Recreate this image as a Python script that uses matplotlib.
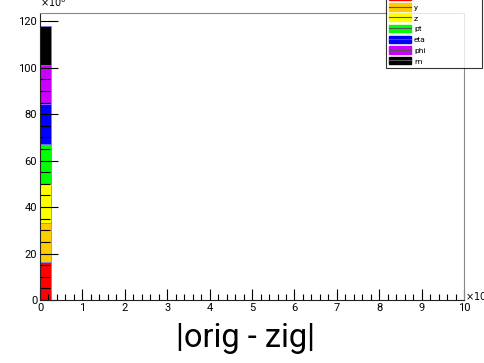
# stacked |orig - zig| histogram, ROOT style
import numpy as np
import matplotlib.pyplot as plt
from matplotlib.patches import Patch
from matplotlib.lines import Line2D
from matplotlib.ticker import MultipleLocator

plt.rcParams['font.family'] = ['Roboto', 'DejaVu Sans']

names = ["x", "y", "z", "pt", "eta", "phi", "m"]
colors = ["#ff0000", "#ffcc00", "#ffff00", "#00ff00", "#0000ff", "#cc00ff", "#000000"]
counts = [16.5, 16.8, 17.0, 16.8, 17.2, 16.7, 16.8]  # x10^6, first bin
bin_lo = 0.0
bin_w = 0.25

fig = plt.figure(figsize=[4.85, 3.63], dpi=100)
ax = fig.add_axes([0.0825, 0.1736, 0.8745, 0.7904])

bottom = 0.0
for n, c, v in zip(names, colors, counts):
    ax.bar(bin_lo, v, width=bin_w, bottom=bottom, align='edge', color=c,
           edgecolor='#7777ff', linewidth=0.5)
    bottom += v

ax.set_xlim(0, 10)
ax.set_ylim(0, 123.5)
ax.xaxis.set_major_locator(MultipleLocator(1))
ax.xaxis.set_minor_locator(MultipleLocator(0.2))
ax.yaxis.set_major_locator(MultipleLocator(20))
ax.yaxis.set_minor_locator(MultipleLocator(5))
ax.tick_params(axis='x', which='major', direction='in', length=8, width=0.8, labelsize=8, pad=2)
ax.tick_params(axis='x', which='minor', direction='in', length=4, width=0.8)
ax.tick_params(axis='y', which='major', direction='in', length=13, width=0.8, labelsize=8, pad=2)
ax.tick_params(axis='y', which='minor', direction='in', length=7, width=0.8)
for s in ['top', 'right']:
    ax.spines[s].set_color('#888888')
ax.spines['left'].set_color('#222222')
ax.spines['bottom'].set_color('#222222')

fig.text(0.082, 0.975, r"$\times10^{6}$", fontsize=7, ha='left', va='bottom')
fig.text(0.958, 0.185, r"$\times10$", fontsize=7, ha='left', va='center')
fig.text(0.506, 0.07, "|orig - zig|", fontsize=23.5, ha='center', va='center')

handles = [(Patch(facecolor=c, edgecolor=c),
            Line2D([], [], color='#555555', lw=0.8)) for c in colors]
leg = fig.legend(handles, names, loc='lower left',
                 bbox_to_anchor=(0.796, 0.814, 0.198, 0.3), mode='expand',
                 fontsize=6, frameon=True, fancybox=False, borderaxespad=0,
                 handlelength=2.6, handleheight=1.0, labelspacing=0.38,
                 borderpad=0.35, handletextpad=0.4)
leg.get_frame().set_edgecolor('black')
leg.get_frame().set_linewidth(0.8)

plt.savefig("out.png", dpi=100)
